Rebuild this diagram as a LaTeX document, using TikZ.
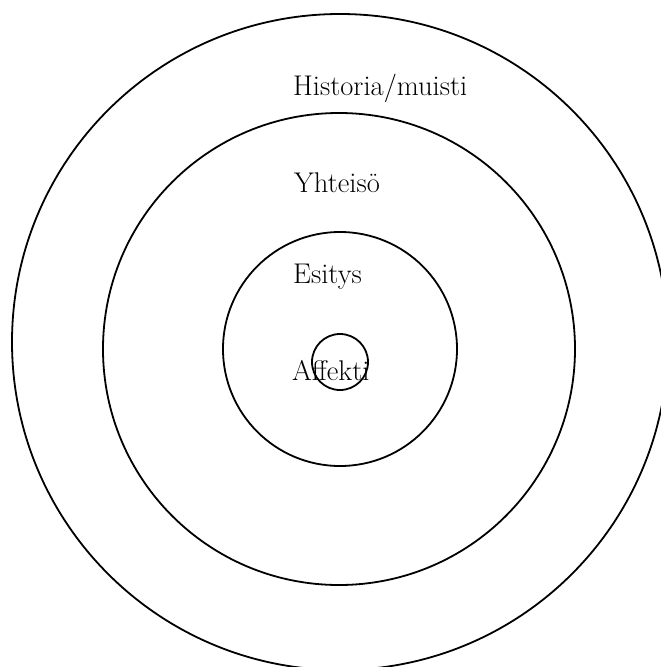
\documentclass[tikz,border=0pt]{standalone}
\usepackage{tikz}

\begin{document}
\begin{tikzpicture}[
  x=1pt,y=-1pt,
  ring/.style={draw,circle,line width=1.8pt,inner sep=0pt},
  lbl/.style={anchor=base west,inner sep=0pt,font=\fontsize{28.5}{34}\selectfont}
]
\useasboundingbox (0,0) rectangle (661,667);
% rings, outside in
\node[ring,minimum size=656pt] (hist) at (340,342) {};
\node[ring,minimum size=472pt] (yht) at (339,349) {};
\node[ring,minimum size=234pt] (esi) at (340,349) {};
\node[ring,minimum size=56pt] (aff) at (340,362) {};
% labels
\node[lbl] (histlbl) at (293,95) {Historia/muisti};
\node[lbl] (yhtlbl) at (294,192) {Yhteisö};
\node[lbl] (esilbl) at (293,283) {Esitys};
\node[lbl] (afflbl) at (292,380) {Affekti};
\end{tikzpicture}
\end{document}
